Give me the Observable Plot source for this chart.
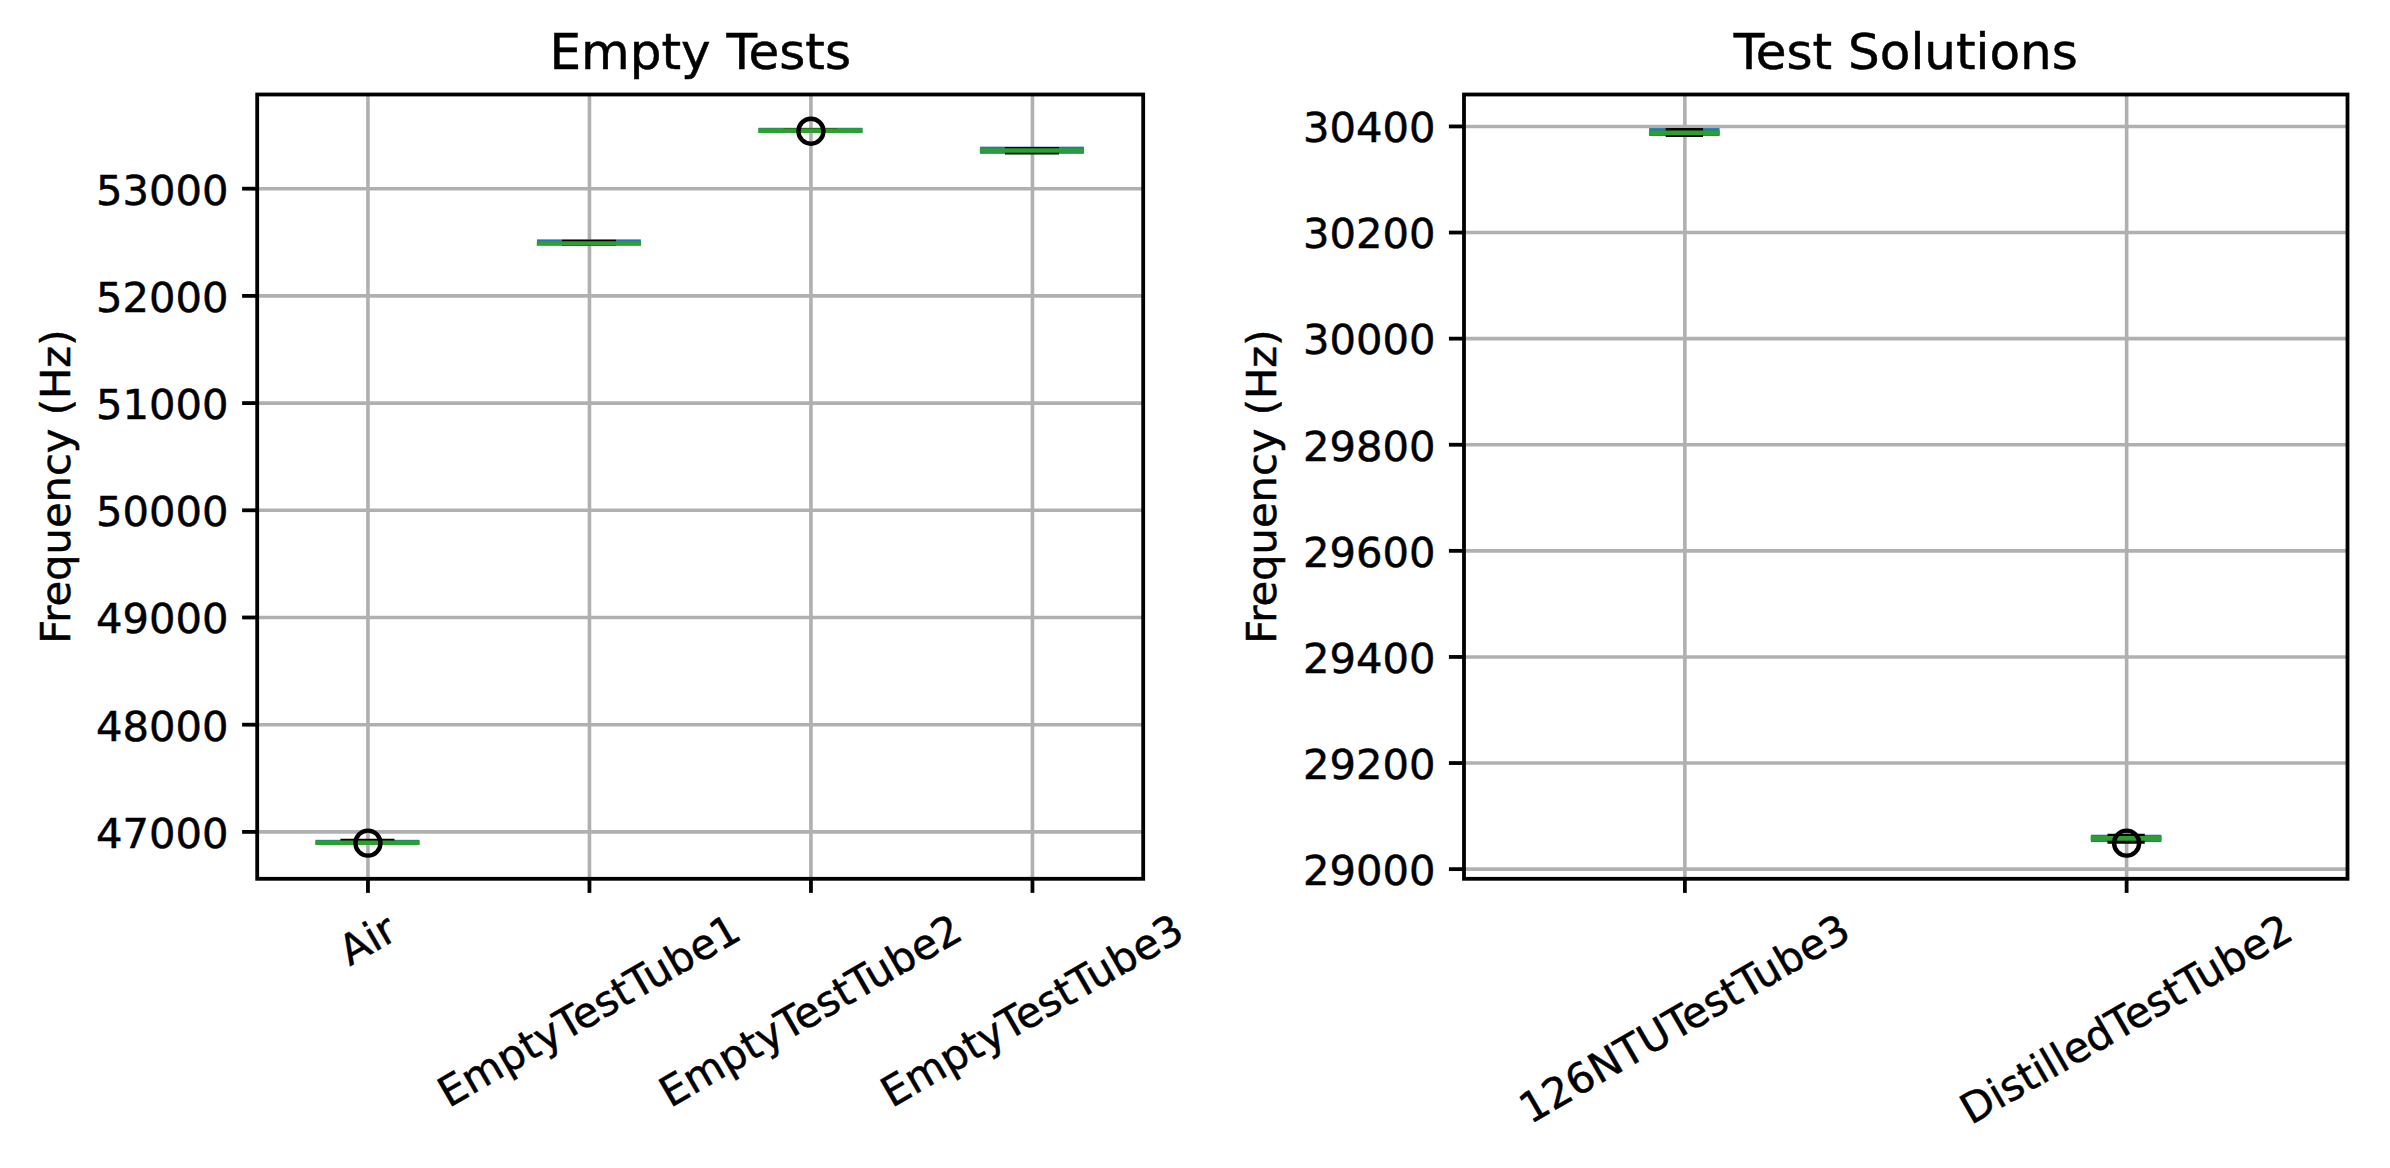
<!DOCTYPE html>
<html><head><meta charset="utf-8">
<script src="https://cdn.jsdelivr.net/npm/d3@7"></script>
<script src="https://cdn.jsdelivr.net/npm/@observablehq/plot@0.6"></script>
<style>
html,body{margin:0;padding:0;background:#fff;}
#fig{display:flex;width:2390px;height:1168px;background:#fff;}
#fig svg{display:block;}
#fig svg text{stroke:#000;stroke-width:0.5px;}
</style></head><body><div id="fig"></div>
<script>
// ---- Data: Empty Tests ----
const emptyCategories = ["Air", "EmptyTestTube1", "EmptyTestTube2", "EmptyTestTube3"];
const emptyWhiskerLow = [46897, 52484, 53539, 53339];
const emptyQ1         = [46898, 52486, 53540, 53340];
const emptyMedian     = [46899, 52488, 53542, 53356];
const emptyQ3         = [46902, 52503, 53544, 53368];
const emptyWhiskerHigh= [46916, 52504, 53546, 53369];
const emptyFliers     = [[46895], [], [53536], []];
const emptyYTicks = [47000, 48000, 49000, 50000, 51000, 52000, 53000];

// ---- Data: Test Solutions ----
const solCategories = ["126NTUTestTube3", "DistilledTestTube2"];
const solWhiskerLow = [30384, 29052];
const solQ1         = [30385, 29054];
const solMedian     = [30388, 29058];
const solQ3         = [30392, 29060];
const solWhiskerHigh= [30393, 29063];
const solFliers     = [[], [29049]];
const solYTicks = [29000, 29200, 29400, 29600, 29800, 30000, 30200, 30400];

const FONT = "DejaVu Sans";
const PT = 300 / 72; // px per point at 300 dpi
const tickFs = 10 * PT, titleFs = 12 * PT;

const ctx = document.createElement("canvas").getContext("2d");
ctx.font = `${tickFs}px "${FONT}"`;
const textW = s => ctx.measureText(s).width;

function panel({title, cats, lo, q1, med, q3, hi, fliers, yTicks, width, margins}) {
  const n = cats.length;
  const positions = cats.map((_, i) => i + 1);
  const bw = Math.min(0.5, Math.max(0.15, 0.15 * (n - 1)));
  const rows = cats.map((c, i) => ({pos: i + 1, lo: lo[i], q1: q1[i], med: med[i], q3: q3[i], hi: hi[i]}));
  const flierRows = fliers.flatMap((f, i) => f.map(v => ({pos: i + 1, v})));
  const all = [...lo, ...hi, ...fliers.flat()];
  const mn = Math.min(...all), mx = Math.max(...all), pad = 0.05 * (mx - mn);
  const lw = 1 * PT, gw = 3.6, sw = 3.8;
  const labelMarks = cats.map((c, i) =>
    Plot.text([i + 1], {x: d => d, text: () => c, frameAnchor: "bottom", rotate: -30,
      textAnchor: "middle", lineAnchor: "middle", dy: 14.58 * 2 + 18.5 + textW(c) / 4,
      fontSize: tickFs, fill: "black"}));
  return Plot.plot({
    width, height: 1168,
    marginLeft: margins[0], marginRight: margins[1], marginTop: 94, marginBottom: 289.7,
    style: {fontFamily: FONT, fontSize: `${tickFs}px`, color: "black", background: "white", overflow: "visible"},
    x: {type: "linear", domain: [0.5, n + 0.5], axis: null},
    y: {type: "linear", domain: [mn - pad, mx + pad], axis: null},
    marks: [
      Plot.gridX(positions, {stroke: "#b0b0b0", strokeOpacity: 1, strokeWidth: gw}),
      Plot.gridY(yTicks, {stroke: "#b0b0b0", strokeOpacity: 1, strokeWidth: gw}),
      Plot.rect(rows, {x1: d => d.pos - bw / 2, x2: d => d.pos + bw / 2, y1: "q1", y2: "q3",
        fill: "none", stroke: "#1f77b4", strokeWidth: lw}),
      Plot.ruleX(rows, {x: "pos", y1: "q3", y2: "hi", stroke: "black", strokeWidth: lw}),
      Plot.ruleX(rows, {x: "pos", y1: "lo", y2: "q1", stroke: "black", strokeWidth: lw}),
      Plot.ruleY(rows, {y: "hi", x1: d => d.pos - bw / 4, x2: d => d.pos + bw / 4, stroke: "black", strokeWidth: lw, strokeLinecap: "square"}),
      Plot.ruleY(rows, {y: "lo", x1: d => d.pos - bw / 4, x2: d => d.pos + bw / 4, stroke: "black", strokeWidth: lw, strokeLinecap: "square"}),
      Plot.ruleY(rows, {y: "med", x1: d => d.pos - bw / 2, x2: d => d.pos + bw / 2, stroke: "#2ca02c", strokeWidth: 4.6, strokeLinecap: "square"}),
      Plot.dot(flierRows, {x: "pos", y: "v", r: 12.5, fill: "none", stroke: "black", strokeWidth: 4.4}),
      Plot.frame({stroke: "black", strokeWidth: sw}),
      Plot.axisY(yTicks, {tickSize: 3.5 * PT, strokeWidth: sw, fill: "none", label: null, tickFormat: "d"}),
      Plot.axisY(yTicks, {tickSize: 3.5 * PT, tickPadding: 14, stroke: "none", fill: "black", fontSize: tickFs, label: null, tickFormat: "d", dy: 2.5}),
      Plot.axisX(positions, {tickSize: 3.5 * PT, strokeWidth: sw, tickFormat: () => "", label: null}),
      ...labelMarks,
      Plot.text(["Frequency (Hz)"], {text: d => d, frameAnchor: "left", rotate: -90, dx: -201,
        textAnchor: "middle", lineAnchor: "middle", fontSize: tickFs, fill: "black"}),
      Plot.text([title], {text: d => d, frameAnchor: "top", lineAnchor: "bottom", dy: -25.7,
        fontSize: titleFs, fill: "black"})
    ]
  });
}

const fig = document.getElementById("fig");
fig.append(panel({title: "Empty Tests", cats: emptyCategories, lo: emptyWhiskerLow, q1: emptyQ1,
  med: emptyMedian, q3: emptyQ3, hi: emptyWhiskerHigh, fliers: emptyFliers, yTicks: emptyYTicks,
  width: 1200, margins: [256.7, 57.3]}));
fig.append(panel({title: "Test Solutions", cats: solCategories, lo: solWhiskerLow, q1: solQ1,
  med: solMedian, q3: solQ3, hi: solWhiskerHigh, fliers: solFliers, yTicks: solYTicks,
  width: 1190, margins: [263.5, 43]}));
</script>
</body></html>
